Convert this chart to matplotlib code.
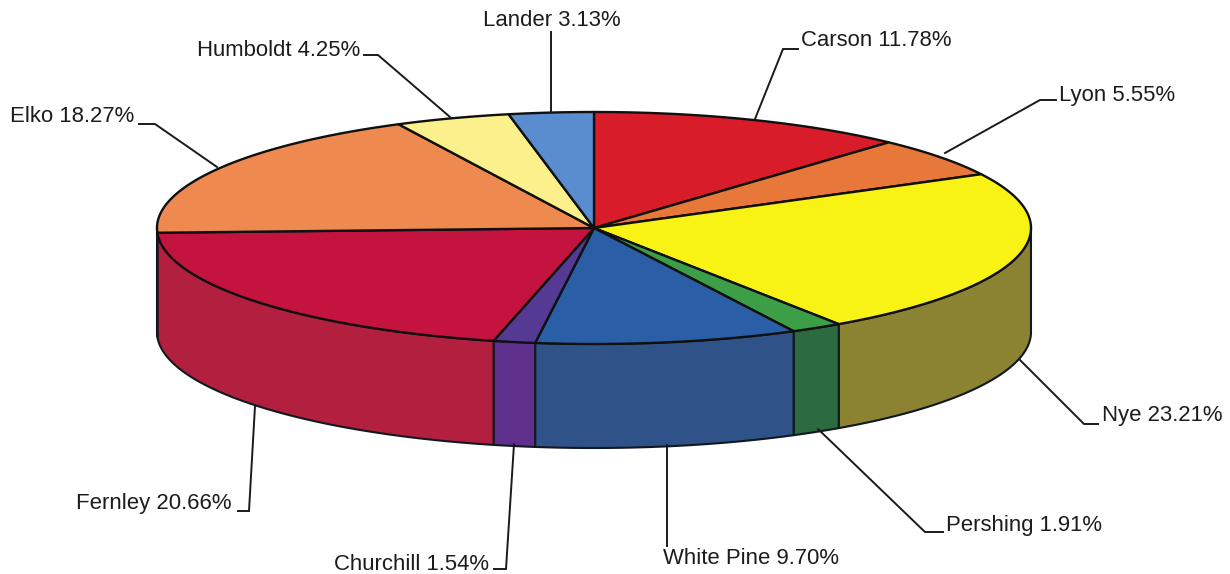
import matplotlib.pyplot as plt
from matplotlib.patches import Polygon
import numpy as np

plt.rcParams['font.family'] = ['Liberation Sans', 'DejaVu Sans']

names = ['Carson', 'Lyon', 'Nye', 'Pershing', 'White Pine', 'Churchill', 'Fernley', 'Elko', 'Humboldt', 'Lander']
shares = [11.78, 5.55, 23.21, 1.91, 9.70, 1.54, 20.66, 18.27, 4.25, 3.13]
top_colors = ['#d81c2a', '#e8773a', '#f8f215', '#3c9f48', '#2a5ea6', '#553a94', '#c4133f', '#ee8a50', '#fbf08c', '#5a8dcf']
side_colors = ['#a81520', '#b55a2b', '#8b8232', '#2c6a40', '#2f5288', '#5f2f8c', '#b21f3f', '#b56a3d', '#c0b86a', '#44699a']

# label anchor and leader line, pixel coords of the 1230x574 image
label_xy = [(801, 41), (1059, 95), (1102, 416), (946, 526), (663, 559), (489, 564), (232, 504), (134, 117), (360, 50), (483, 21)]
label_ha = ['left', 'left', 'left', 'left', 'left', 'right', 'right', 'right', 'right', 'left']
leaders = [
    [(798, 49), (783, 49), (755, 119)],
    [(1056, 100), (1040, 100), (945, 153)],
    [(1098, 424), (1084, 424), (1020, 360)],
    [(943, 532), (925, 532), (818, 429)],
    [(667, 546), (667, 445)],
    [(494, 569), (506, 569), (514, 444)],
    [(238, 511), (249, 511), (255, 406)],
    [(139, 124), (155, 124), (217, 167)],
    [(364, 55), (378, 55), (450, 117)],
    [(551, 32), (551, 112)],
]

cx, cy = 594, 228
rx, ry = 437, 116
depth = 104

fig = plt.figure(figsize=(12.3, 5.74), dpi=100)
ax = fig.add_axes([0, 0, 1, 1])
ax.set_xlim(0, 1230)
ax.set_ylim(574, 0)
ax.axis('off')


def rim(a0, a1):
    # angles in degrees clockwise from the top of the ellipse
    t = np.radians(np.linspace(a0, a1, max(int(abs(a1 - a0) * 2), 2)))
    return cx + rx * np.sin(t), cy - ry * np.cos(t)


edges = np.cumsum([0] + shares) * 3.6

# side wall first, only the front half is visible
for i in range(len(names)):
    a0 = max(edges[i], 90)
    a1 = min(edges[i + 1], 270)
    if a1 <= a0:
        continue
    x, y = rim(a0, a1)
    pts = np.r_[np.c_[x, y], np.c_[x[::-1], y[::-1] + depth]]
    ax.add_patch(Polygon(pts, closed=True, fc=side_colors[i], ec='#101820', lw=1.5, joinstyle='round'))

# top face
for i in range(len(names)):
    x, y = rim(edges[i], edges[i + 1])
    pts = np.r_[[(cx, cy)], np.c_[x, y]]
    ax.add_patch(Polygon(pts, closed=True, fc=top_colors[i], ec='#101010', lw=1.7, joinstyle='round'))

for i in range(len(names)):
    ln = np.array(leaders[i])
    ax.plot(ln[:, 0], ln[:, 1], color='#1a1a1a', lw=1.4, solid_joinstyle='miter')
    ax.text(label_xy[i][0], label_xy[i][1], '%s %.2f%%' % (names[i], shares[i]), fontsize=15.9,
            ha=label_ha[i], va='center', color='#1c1c1c')

plt.savefig('out.png', dpi=100)
